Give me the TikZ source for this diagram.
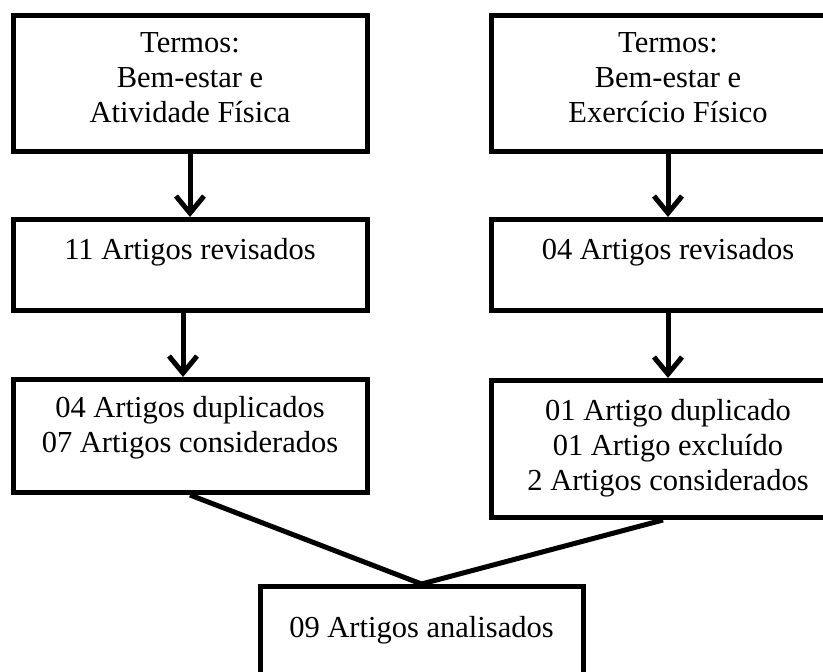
\documentclass[tikz,border=0pt]{standalone}
\usepackage{fontspec}
\setmainfont{Liberation Serif}
\usetikzlibrary{arrows.meta}
\tikzset{caixa/.style={draw, line width=5pt, inner sep=0pt, anchor=north, align=center,
                       font=\fontsize{30.5}{35}\selectfont},
         seta/.style={line width=5pt, -{Straight Barb[length=17pt,width=28pt]}},
         ligacao/.style={line width=5pt},
        }

\begin{document}
\begin{tikzpicture}[x=1pt,y=-1pt]
        \useasboundingbox (0,0) rectangle (823,672);
        \node[caixa, minimum width=354, text height=107, text depth=29](termos1)at(190,13){Termos:\\Bem-estar e\\Atividade Física};
        \node[caixa, minimum width=354, text height=107, text depth=29](termos2)at(668,13){Termos:\\Bem-estar e\\Exercício Físico};
        \node[caixa, minimum width=354, text height=40, text depth=51](rev1)at(190,217){11 Artigos revisados};
        \node[caixa, minimum width=354, text height=40, text depth=51](rev2)at(668,217){04 Artigos revisados};
        \node[caixa, minimum width=354, text height=73, text depth=40](dup1)at(190,377){04 Artigos duplicados\\07 Artigos considerados};
        \node[caixa, minimum width=354, text height=110, text depth=27](dup2)at(668,378){01 Artigo duplicado\\01 Artigo excluído\\2 Artigos considerados};
        \node[caixa, minimum width=323, text height=51, text depth=65](anal)at(421.5,584){09 Artigos analisados};

        \draw[seta](termos1.south)--(rev1.north);
        \draw[seta]([xshift=-7pt]rev1.south)--([xshift=-7pt]dup1.north);
        \draw[seta](termos2.south)--(rev2.north);
        \draw[seta](rev2.south)--(dup2.north);
        \draw[ligacao](dup1.south)--(anal.north);
        \draw[ligacao]([xshift=-5pt]dup2.south)--(anal.north);
    \end{tikzpicture}
\end{document}
